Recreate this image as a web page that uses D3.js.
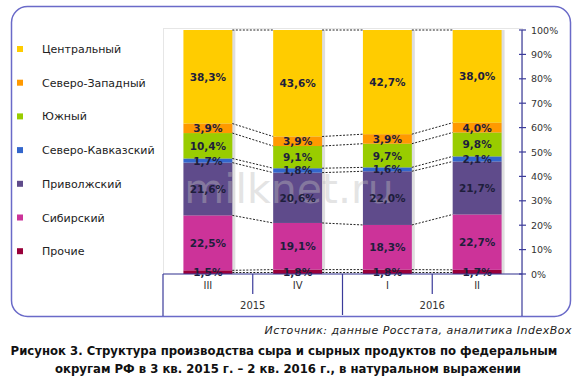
<!DOCTYPE html>
<html><head><meta charset="utf-8">
<script src="https://cdn.jsdelivr.net/npm/d3@7/dist/d3.min.js"></script>
<style>body{margin:0;background:#fff;} svg{display:block;}</style>
</head><body>
<svg id="c" width="580" height="378"></svg>
<script>
const quarters = ["III", "IV", "I", "II"];
const years = [{label: "2015", from: 0, to: 1}, {label: "2016", from: 2, to: 3}];
const regions = ["Прочие", "Сибирский", "Приволжский", "Северо-Кавказский", "Южный", "Северо-Западный", "Центральный"];
const colors = ["#99003a", "#cc3399", "#5f4b8b", "#3366cc", "#99cc00", "#ff9900", "#ffcc00"];
const vProchie = [1.5, 1.8, 1.8, 1.7];
const vSibir = [22.5, 19.1, 18.3, 22.7];
const vPrivol = [21.6, 20.6, 22.0, 21.7];
const vSevKav = [1.7, 1.8, 1.6, 2.1];
const vYuzh = [10.4, 9.1, 9.7, 9.8];
const vSevZap = [3.9, 3.9, 3.9, 4.0];
const vCentr = [38.3, 43.6, 42.7, 38.0];
const series = [vProchie, vSibir, vPrivol, vSevKav, vYuzh, vSevZap, vCentr];
const yTicks = [0, 10, 20, 30, 40, 50, 60, 70, 80, 90, 100];
const legendOrder = ["Центральный", "Северо-Западный", "Южный", "Северо-Кавказский", "Приволжский", "Сибирский", "Прочие"];
const sourceText = "Источник: данные Росстата, аналитика IndexBox";
const titleLines = ["Рисунок 3. Структура производства сыра и сырных продуктов по федеральным", "округам РФ в 3 кв. 2015 г. – 2 кв. 2016 г., в натуральном выражении"];

const svg = d3.select("#c");
const font = "Verdana, 'DejaVu Sans', sans-serif";
const axisColor = "#3b3b9a";

// frame
svg.append("rect").attr("x", 11.5).attr("y", 6.5).attr("width", 559).attr("height", 310)
  .attr("rx", 16).attr("fill", "#fff").attr("stroke", "#6a6ac8").attr("stroke-width", 1.5);

const x0 = 163, x1 = 522, yTop = 30, yBot = 274;
const x = d3.scaleBand().domain(quarters).range([x0, x1]).paddingInner(0.455).paddingOuter(0.2275);
const y = d3.scaleLinear().domain([0, 100]).range([yBot, yTop]);

// plot area border
svg.append("rect").attr("x", x0 + 0.5).attr("y", yTop - 1.5).attr("width", x1 - x0).attr("height", yBot - yTop + 1.5)
  .attr("fill", "none").attr("stroke", "#e6e6e6");

// data table
const table = quarters.map((q, i) => {
  const o = {q};
  const tot = d3.sum(series, s => s[i]);
  regions.forEach((r, k) => o[r] = series[k][i] / tot * 100);
  o.raw = series.map(s => s[i]);
  return o;
});
const stack = d3.stack().keys(regions)(table);

// shadows
const bw = x.bandwidth();
svg.append("g").selectAll("rect").data(quarters).join("rect")
  .attr("x", d => x(d) + 3).attr("y", y(100)).attr("width", bw).attr("height", y(0) - y(100))
  .attr("fill", "#c8c8c8").attr("opacity", 0.6);

// bars
const g = svg.append("g");
stack.forEach((layer, k) => {
  g.append("g").selectAll("rect").data(layer).join("rect")
    .attr("x", d => x(d.data.q)).attr("width", bw)
    .attr("y", d => y(d[1])).attr("height", d => y(d[0]) - y(d[1]))
    .attr("fill", colors[k]);
});

// watermark
svg.append("text").attr("x", 289).attr("y", 203).attr("text-anchor", "middle")
  .attr("font-family", "'DejaVu Sans', sans-serif").attr("font-size", 41)
  .attr("fill", "#bcbcbc").attr("opacity", 0.4).text("milknet.ru");

// connector dashed lines at each boundary
const lines = svg.append("g");
for (let k = -1; k < regions.length; k++) {
  for (let i = 0; i < quarters.length - 1; i++) {
    const v1 = k < 0 ? 0 : stack[k][i][1];
    const v2 = k < 0 ? 0 : stack[k][i + 1][1];
    lines.append("line")
      .attr("x1", x(quarters[i]) + bw).attr("x2", x(quarters[i + 1]))
      .attr("y1", y(v1) - (k < 0 ? 1.5 : 0)).attr("y2", y(v2) - (k < 0 ? 1.5 : 0))
      .attr("stroke", "#222").attr("stroke-width", 1).attr("stroke-dasharray", "2,1.5");
  }
}

// labels
const lab = svg.append("g");
stack.forEach((layer, k) => {
  lab.append("g").selectAll("text").data(layer).join("text")
    .attr("x", d => x(d.data.q) + bw / 2)
    .attr("y", d => (y(d[0]) + y(d[1])) / 2 + 4)
    .attr("text-anchor", "middle").attr("font-family", font).attr("font-size", 10.5)
    .attr("font-weight", "bold").attr("fill", "#1e1e3c")
    .text((d, i) => d3.format(".1f")(d.data.raw[k]).replace(".", ",") + "%");
});

// right y axis
const ax = svg.append("g").attr("transform", `translate(${x1},0)`);
ax.append("line").attr("x1", 0).attr("x2", 0).attr("y1", y(100)).attr("y2", 316).attr("stroke", axisColor).attr("stroke-width", 1.2);
ax.selectAll("line.t").data(yTicks).join("line").attr("class", "t")
  .attr("x1", -3).attr("x2", 4).attr("y1", d => y(d)).attr("y2", d => y(d)).attr("stroke", axisColor).attr("stroke-width", 1.2);
ax.selectAll("text").data(yTicks).join("text")
  .attr("x", 9).attr("y", d => y(d) + 3.5).attr("font-family", font).attr("font-size", 9.5)
  .attr("fill", "#333").text(d => d + "%");

// x axis
const xa = svg.append("g");
xa.append("line").attr("x1", x0).attr("x2", x1).attr("y1", yBot).attr("y2", yBot).attr("stroke", axisColor).attr("stroke-width", 1.2);
xa.append("line").attr("x1", x0).attr("x2", x0).attr("y1", yBot).attr("y2", 316).attr("stroke", axisColor).attr("stroke-width", 1.2);
const step = x.step();
quarters.forEach((q, i) => {
  if (i > 0) {
    const xx = x(q) - (step - bw) / 2;
    const isYear = years.some(yy => yy.from === i);
    xa.append("line").attr("x1", xx).attr("x2", xx).attr("y1", yBot).attr("y2", isYear ? 315 : 294)
      .attr("stroke", axisColor).attr("stroke-width", 1.2);
  }
  xa.append("text").attr("x", x(q) + bw / 2).attr("y", 289).attr("text-anchor", "middle")
    .attr("font-family", font).attr("font-size", 10).attr("fill", "#333").text(q);
});
years.forEach(yy => {
  const a = x(quarters[yy.from]) - (step - bw) / 2;
  const b = x(quarters[yy.to]) + bw + (step - bw) / 2;
  xa.append("text").attr("x", (a + b) / 2).attr("y", 309).attr("text-anchor", "middle")
    .attr("font-family", font).attr("font-size", 10).attr("fill", "#333").text(yy.label);
});

// legend
const lg = svg.append("g");
legendOrder.forEach((name, i) => {
  const k = regions.indexOf(name);
  const yy = 49 + i * 33.7;
  lg.append("rect").attr("x", 17).attr("y", yy - 3).attr("width", 6).attr("height", 6).attr("fill", colors[k]);
  lg.append("text").attr("x", 42).attr("y", yy + 4).attr("font-family", font).attr("font-size", 11)
    .attr("fill", "#222").text(name);
});

// source
svg.append("text").attr("x", 572).attr("y", 334).attr("text-anchor", "end")
  .attr("font-family", font).attr("font-size", 11).attr("font-style", "italic").attr("letter-spacing", 0.5)
  .attr("fill", "#222").text(sourceText);

// title
titleLines.forEach((t, i) => {
  svg.append("text").attr("x", 284 + i * 4).attr("y", 355 + i * 18).attr("text-anchor", "middle")
    .attr("font-family", font).attr("font-size", 11.7).attr("font-weight", "bold").attr("fill", "#111").text(t);
});
</script>
</body></html>
